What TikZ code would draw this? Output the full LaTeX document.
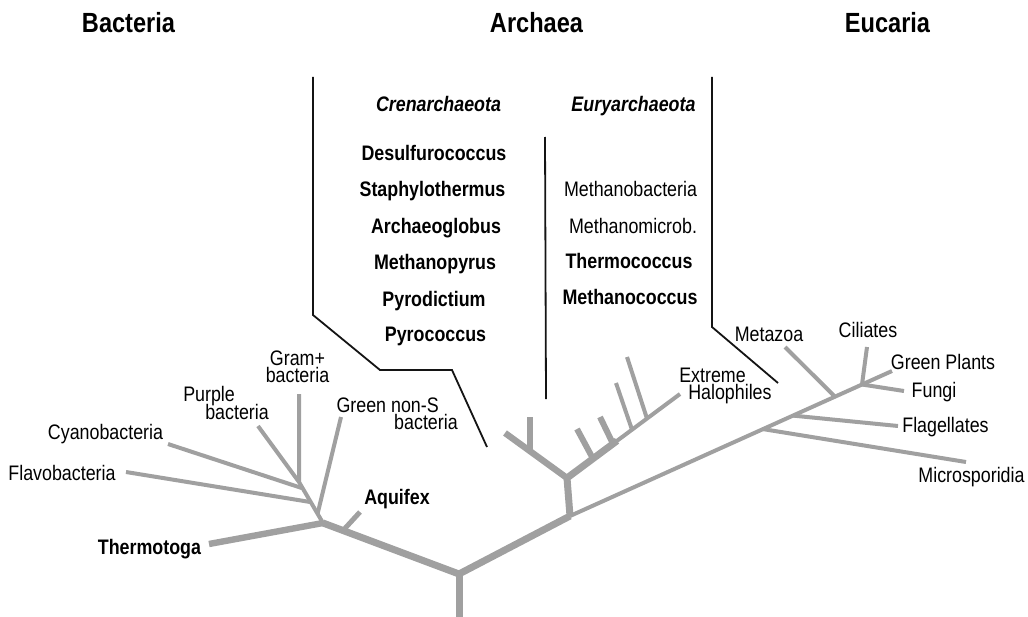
\documentclass[tikz,border=0pt]{standalone}
\usepackage{fontspec}
\setmainfont{Liberation Sans}[FakeStretch=0.85]
\definecolor{tree}{RGB}{160,160,160}
\definecolor{ink}{RGB}{20,20,20}
\newcommand\tightlines{\lineskiplimit=-30pt\relax\lineskip=0pt\relax}
\begin{document}
\begin{tikzpicture}[x=0.75pt,y=-0.75pt,
  br/.style={draw=tree,line cap=butt,line join=round},
  bl/.style={draw=ink,line width=1.35pt,line join=miter},
  lbl/.style={inner sep=0pt,anchor=base,font=\fontsize{15.75}{18}\selectfont},
  two/.style={inner sep=0pt,font=\fontsize{15.75}{13.1}\selectfont\tightlines},
  blbl/.style={inner sep=0pt,anchor=base,font=\fontsize{15.75}{18}\selectfont\bfseries},
  ital/.style={inner sep=0pt,anchor=base,font=\fontsize{15.75}{18}\selectfont\bfseries\itshape},
  hdr/.style={inner sep=0pt,anchor=base,font=\fontsize{20.8}{24}\selectfont\bfseries},
  wA/.style={line width=5.25pt},
  wB/.style={line width=4.8pt},
  wC/.style={line width=4.5pt},
  wD/.style={line width=3.75pt},
  wE/.style={line width=3pt}]
\useasboundingbox (0,0) rectangle (1028,617);
% ---- coordinates
\coordinate (R0) at (459,617);
\coordinate (R) at (459,574);
\coordinate (B) at (323,523);
\coordinate (T) at (209,544);
\coordinate (A1) at (343,530.5);
\coordinate (A2) at (360,512);
\coordinate (S2) at (299,482);
\coordinate (Gn0) at (317.5,514);
\coordinate (Gn1) at (341,417);
\coordinate (Fl0) at (310.2,502);
\coordinate (Fl1) at (126,472);
\coordinate (Cy0) at (301.7,488);
\coordinate (Cy1) at (168,444);
\coordinate (Pu1) at (258,426);
\coordinate (Gp1) at (299,394);
% archaea
\coordinate (AJ) at (570,516);
\coordinate (AV) at (567,478);
\coordinate (AL) at (505,433);
\coordinate (AY0) at (530,451);
\coordinate (AY1) at (530,417);
\coordinate (AT) at (617,440.8);
\coordinate (H) at (680,394);
\coordinate (s1a) at (593,458.7);
\coordinate (s1b) at (577,429);
\coordinate (s2a) at (613,443.8);
\coordinate (s2b) at (600,417);
\coordinate (s3a) at (632,429.7);
\coordinate (s3b) at (616,383);
\coordinate (s4a) at (647,418.6);
\coordinate (s4b) at (627,357);
% eucarya
\coordinate (GP) at (892,371);
\coordinate (Mi0) at (763,429.1);
\coordinate (Mi1) at (966,462);
\coordinate (Fg0) at (793,415.6);
\coordinate (Fg1) at (898,426);
\coordinate (Mz0) at (835,396.7);
\coordinate (Mz1) at (785,347);
\coordinate (CF) at (862,384.5);
\coordinate (Ci1) at (867,347);
\coordinate (Fu1) at (904,391);
% black boundary lines
\coordinate (L0) at (313,77);
\coordinate (L1) at (313,315);
\coordinate (L2) at (380,370);
\coordinate (L3) at (452,370);
\coordinate (L4) at (487,447);
\coordinate (M0) at (545,137);
\coordinate (M1) at (546,399);
\coordinate (Q0) at (712,77);
\coordinate (Q1) at (712,327);
\coordinate (Q2) at (778,383);
% ---- tree
\draw[br,wA] (R0) -- (R);
\draw[br,wA] (B) -- (R) -- (AJ);
\draw[br,wE] (AJ) -- (GP);
\draw[br,wB] (T) -- (B);
\draw[br,wD] (A1) -- (A2);
\draw[br,wE] (B) -- (S2) -- (Gp1);
\draw[br,wE] (S2) -- (Pu1);
\draw[br,wE] (Cy0) -- (Cy1);
\draw[br,wE] (Fl0) -- (Fl1);
\draw[br,wE] (Gn0) -- (Gn1);
% archaea
\draw[br,wE] (AV) -- (H);
\draw[br,wA] (AJ) -- (AV) -- (AT);
\draw[br,wB] (AV) -- (AL);
\draw[br,wC] (AY0) -- (AY1);
\draw[br,wC] (s1a) -- (s1b);
\draw[br,wC] (s2a) -- (s2b);
\draw[br,wE] (s3a) -- (s3b);
\draw[br,wE] (s4a) -- (s4b);
% eucarya
\draw[br,wE] (Mi0) -- (Mi1);
\draw[br,wE] (Fg0) -- (Fg1);
\draw[br,wE] (Mz0) -- (Mz1);
\draw[br,wE] (CF) -- (Ci1);
\draw[br,wE] (CF) -- (Fu1);
% black lines
\draw[bl] (L0) -- (L1) -- (L2) -- (L3) -- (L4);
\draw[bl] (M0) -- (M1);
\draw[bl] (Q0) -- (Q1) -- (Q2);
% ---- labels
\node[hdr] (hB) at (128.5,33) {Bacteria};
\node[hdr] (hA) at (536.5,33) {Archaea};
\node[hdr] (hE) at (887.5,33) {Eucaria};
\node[ital] (cren) at (438.5,112) {Crenarchaeota};
\node[ital] (eury) at (633.5,112) {Euryarchaeota};
\node[blbl] (desulf) at (434,160.5) {Desulfurococcus};
\node[blbl] (staph) at (432.5,196.5) {Staphylothermus};
\node[blbl] (archaeo) at (436,233.5) {Archaeoglobus};
\node[blbl] (mpyrus) at (435,269.5) {Methanopyrus};
\node[blbl] (pyrod) at (434,306.5) {Pyrodictium};
\node[blbl] (pyroc) at (435.5,341.5) {Pyrococcus};
\node[lbl] (mbac) at (630.5,196.5) {Methanobacteria};
\node[lbl] (mmic) at (633,233.5) {Methanomicrob.};
\node[blbl] (thermoc) at (629,268.5) {Thermococcus};
\node[blbl] (mcoc) at (630,304.5) {Methanococcus};
\node[two,align=center,anchor=base] (gram) at (297.5,382.5) {Gram+\\bacteria};
\node[two,align=left,anchor=base west] (purple) at (183,419) {Purple\\\hspace*{16.5pt}bacteria};
\node[two,align=right,anchor=base east] (gns) at (458,429.5) {Green non-S\hspace*{14.25pt}\\bacteria};
\node[lbl] (cyano) at (105.5,439.5) {Cyanobacteria};
\node[lbl] (flavo) at (62,480.5) {Flavobacteria};
\node[blbl] (aquifex) at (397,504.5) {Aquifex};
\node[blbl] (thermotoga) at (149.5,554.5) {Thermotoga};
\node[two,align=left,anchor=base west,font=\fontsize{15.75}{12.75}\selectfont\tightlines] (extreme) at (679,399.5) {Extreme\\\hspace*{6.75pt}Halophiles};
\node[lbl] (metazoa) at (769,341.5) {Metazoa};
\node[lbl] (ciliates) at (868,337.5) {Ciliates};
\node[lbl] (gplants) at (943,369.5) {Green Plants};
\node[lbl] (fungi) at (934,397.5) {Fungi};
\node[lbl] (flag) at (945.5,432.5) {Flagellates};
\node[lbl] (micro) at (971.5,482.5) {Microsporidia};
\end{tikzpicture}
\end{document}
